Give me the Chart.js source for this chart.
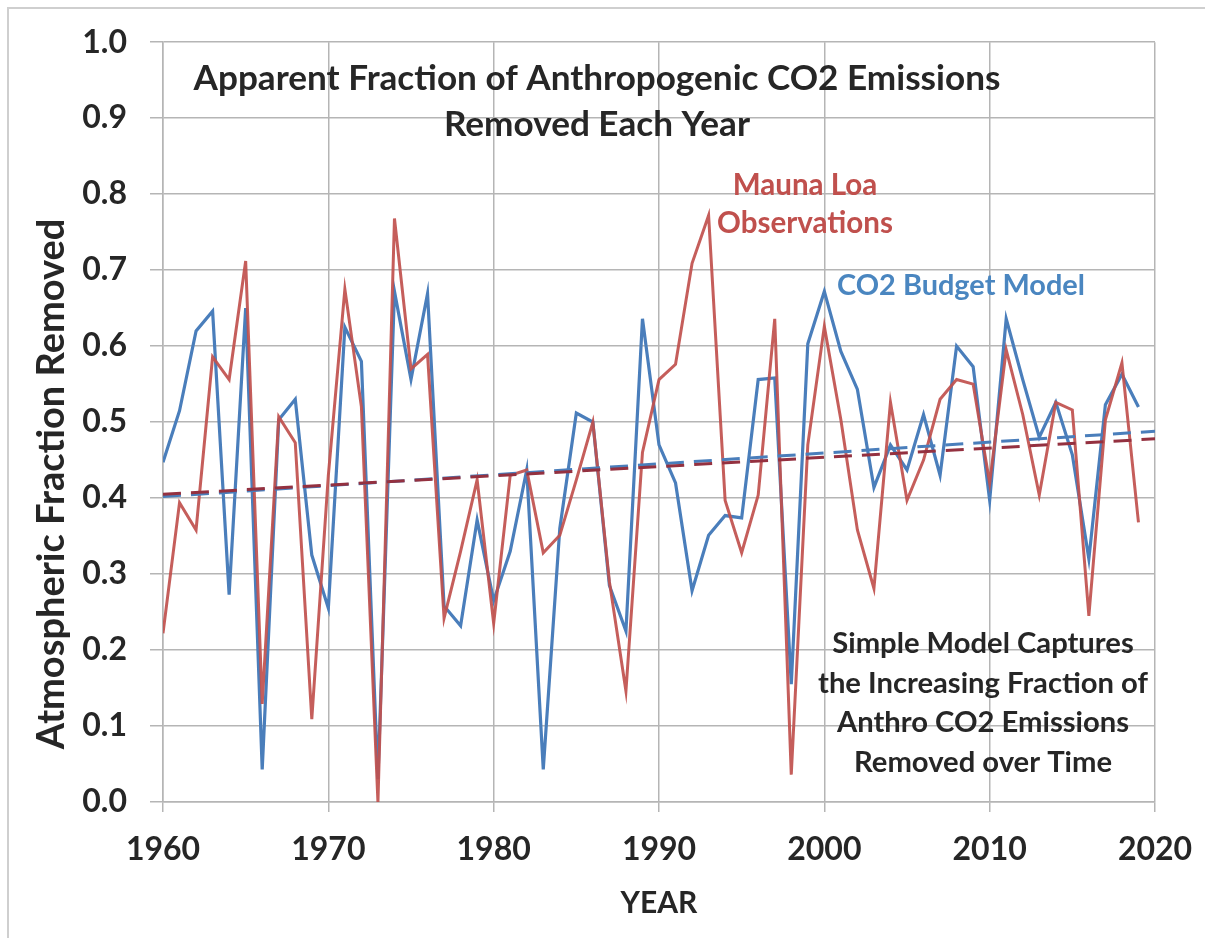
<!DOCTYPE html>
<html>
<head>
<meta charset="utf-8">
<script src="https://cdn.jsdelivr.net/npm/chart.js@4.4.1/dist/chart.umd.min.js"></script>
<style>
html,body{margin:0;padding:0;background:#fff}
#wrap{width:1205px;height:938px;position:relative}
</style>
</head>
<body>
<div id="wrap"><canvas id="myChart"></canvas></div>
<script>
// values
const years=[1960,1961,1962,1963,1964,1965,1966,1967,1968,1969,
1970,1971,1972,1973,1974,1975,1976,1977,1978,1979,
1980,1981,1982,1983,1984,1985,1986,1987,1988,1989,
1990,1991,1992,1993,1994,1995,1996,1997,1998,1999,
2000,2001,2002,2003,2004,2005,2006,2007,2008,2009,
2010,2011,2012,2013,2014,2015,2016,2017,2018,2019];

// CO2 Budget Model (blue)
const modelValues=[0.447,0.515,0.620,0.646,0.273,0.650,0.043,0.503,0.530,0.325,
0.255,0.625,0.580,0.030,0.672,0.556,0.669,0.258,0.232,0.371,
0.265,0.330,0.437,0.043,0.360,0.512,0.500,0.285,0.225,0.636,
0.470,0.420,0.278,0.351,0.377,0.374,0.556,0.558,0.155,0.603,
0.672,0.593,0.543,0.414,0.470,0.437,0.510,0.430,0.600,0.573,
0.397,0.636,0.556,0.480,0.526,0.457,0.320,0.523,0.563,0.520];

// Mauna Loa Observations (red)
const obsValues=[0.222,0.394,0.358,0.586,0.556,0.712,0.129,0.507,0.473,0.109,
0.430,0.675,0.520,0.000,0.768,0.570,0.589,0.242,0.330,0.424,
0.235,0.430,0.437,0.328,0.351,0.424,0.500,0.290,0.146,0.460,
0.556,0.576,0.709,0.772,0.397,0.328,0.404,0.636,0.036,0.470,
0.626,0.503,0.358,0.281,0.526,0.397,0.450,0.530,0.556,0.550,
0.420,0.595,0.510,0.404,0.526,0.516,0.245,0.503,0.578,0.368];

// dashed trend lines, ends
const trendYears=[1960,2020];
const obsTrend=[0.405,0.478];
const modelTrend=[0.402,0.488];

const yTicks=[0,0.1,0.2,0.3,0.4,0.5,0.6,0.7,0.8,0.9,1.0];

function pts(xs,ys){return xs.map((x,i)=>({x:x,y:ys[i]}));}

const FONT="Lato, 'Open Sans', sans-serif";

// font size so the widest line spans roughly the wanted width
function fitSize(ctx,lines,width,base){
    ctx.font="bold "+base+"px "+FONT;
    let w=0;
    lines.forEach(t=>{w=Math.max(w,ctx.measureText(t).width);});
    return base*width/w;
}

const extras={
    id:"extras",
    beforeDraw(chart){
        const c=chart.ctx;
        c.save();
        c.strokeStyle="#cfcfcf";
        c.lineWidth=2;
        c.beginPath();
        c.moveTo(8,940);c.lineTo(8,8);c.lineTo(1210,8);
        c.stroke();
        c.restore();
    },
    afterDraw(chart){
        const c=chart.ctx;
        c.save();
        c.textAlign="center";
        c.textBaseline="alphabetic";

        // title
        let t1=["Apparent Fraction of Anthropogenic CO2 Emissions"];
        let s=fitSize(c,t1,807,30);
        c.font="bold "+s+"px "+FONT;
        c.fillStyle="#262626";
        c.fillText(t1[0],597,90);
        c.fillText("Removed Each Year",597,136);

        // series labels
        s=fitSize(c,["Observations"],176,28);
        c.font="bold "+s+"px "+FONT;
        c.fillStyle="#c0504d";
        c.fillText("Mauna Loa",805,195);
        c.fillText("Observations",805,233);

        s=fitSize(c,["CO2 Budget Model"],248,28);
        c.font="bold "+s+"px "+FONT;
        c.fillStyle="#4a86c0";
        c.fillText("CO2 Budget Model",961,295);

        // note block
        const note=["Simple Model Captures","the Increasing Fraction of","Anthro CO2 Emissions","Removed over Time"];
        s=fitSize(c,note,330,28);
        c.font="bold "+s+"px "+FONT;
        c.fillStyle="#262626";
        note.forEach((t,i)=>c.fillText(t,983,653+i*39.5));

        // y axis title
        c.font="bold 38px "+FONT;
        c.translate(52,484);
        c.rotate(-Math.PI/2);
        c.textBaseline="middle";
        c.fillText("Atmospheric Fraction Removed",0,0);
        c.restore();
    }
};

let myChart=document.querySelector("#myChart").getContext("2d");
var chart=new Chart(myChart,{
    type:"line",
    data:{
        datasets:[
            {
                label:"Observations trend",
                data:pts(trendYears,obsTrend),
                borderColor:"#943140",
                borderWidth:3,
                borderDash:[18,10],
                pointRadius:0,
                order:0
            },
            {
                label:"Model trend",
                data:pts(trendYears,modelTrend),
                borderColor:"#4a7ebb",
                borderWidth:3,
                borderDash:[18,10],
                pointRadius:0,
                order:1
            },
            {
                label:"Mauna Loa Observations",
                data:pts(years,obsValues),
                borderColor:"rgba(192,80,77,0.92)",
                borderWidth:3,
                pointRadius:0,
                tension:0,
                order:2
            },
            {
                label:"CO2 Budget Model",
                data:pts(years,modelValues),
                borderColor:"#4a7ebb",
                borderWidth:3.2,
                pointRadius:0,
                tension:0,
                order:3
            }
        ]
    },
    options:{
        responsive:true,
        maintainAspectRatio:false,
        animation:false,
        devicePixelRatio:1,
        layout:{padding:{top:40,right:50,left:0,bottom:0}},
        plugins:{legend:{display:false},tooltip:{enabled:false}},
        scales:{
            x:{
                type:"linear",
                min:1960,
                max:2020,
                afterFit:(s)=>{s.height=136;s.paddingLeft=0;s.paddingRight=0;},
                grid:{color:"#b5b5b5",lineWidth:1.5,tickLength:10},
                border:{color:"#b5b5b5",width:1.5},
                ticks:{
                    stepSize:10,
                    color:"#262626",
                    padding:18,
                    font:{family:FONT,size:32,weight:"bold"},
                    callback:(v)=>String(v),
                    maxRotation:0
                },
                title:{
                    display:true,
                    text:"YEAR",
                    color:"#262626",
                    font:{family:FONT,size:30,weight:"bold"},
                    padding:{top:0,bottom:17}
                }
            },
            y:{
                min:0,
                max:1,
                afterFit:(s)=>{s.width=163;},
                afterBuildTicks:(s)=>{s.ticks=yTicks.map(v=>({value:v}));},
                grid:{color:"#b5b5b5",lineWidth:1.5,tickLength:13},
                border:{color:"#b5b5b5",width:1.5},
                ticks:{
                    color:"#262626",
                    padding:23,
                    font:{family:FONT,size:32,weight:"bold"},
                    callback:(v)=>v.toFixed(1)
                }
            }
        }
    },
    plugins:[extras]
});
</script>
</body>
</html>
